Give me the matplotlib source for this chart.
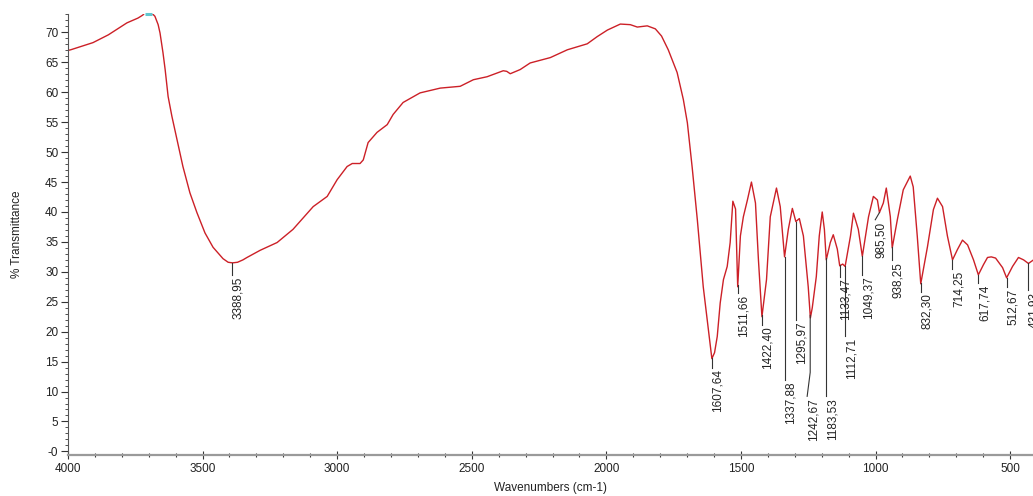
import numpy as np
import matplotlib
matplotlib.use("Agg")
import matplotlib.pyplot as plt
from matplotlib.ticker import MultipleLocator

plt.rcParams['font.family'] = ['Liberation Sans', 'DejaVu Sans']

# spectrum (wavenumber, %T)
wn = [4000, 3990, 3907, 3850, 3781, 3740, 3722, 3714, 3706, 3698, 3688, 3677,
      3665, 3658, 3647, 3639, 3628, 3614, 3595, 3573, 3547, 3521, 3491, 3461,
      3424, 3405, 3389, 3370, 3350, 3335, 3286, 3223, 3164, 3089, 3037, 3000,
      2963, 2944, 2915, 2903, 2885, 2852, 2814, 2792, 2755, 2692, 2617, 2543,
      2494, 2443, 2383, 2370, 2357, 2320, 2283, 2208, 2145, 2071, 2034, 1996,
      1948, 1911, 1885, 1848, 1818, 1795, 1770, 1737, 1714, 1699, 1688, 1681,
      1662, 1640, 1621, 1608, 1598, 1588, 1577, 1565, 1551, 1540, 1530, 1520,
      1512, 1502, 1491, 1476, 1461, 1446, 1435, 1422, 1405, 1391, 1368, 1354,
      1338, 1324, 1309, 1296, 1283, 1268, 1250, 1242, 1235, 1220, 1209, 1198,
      1190, 1183, 1168, 1157, 1142, 1133, 1122, 1113, 1093, 1082, 1064, 1049,
      1026, 1008, 993, 985.5, 971, 960, 945, 938, 919, 897, 871, 860, 845, 832,
      807, 785, 770, 751, 733, 714, 696, 677, 658, 636, 618, 599, 584, 570, 554,
      528, 513, 491, 469, 450, 432, 413]
trans = [67.0, 67.1, 68.3, 69.6, 71.6, 72.4, 72.9, 73.3, 73.5, 73.5, 73.2, 72.7,
         71.3, 69.9, 66.6, 63.8, 59.3, 56.0, 52.1, 47.6, 43.2, 39.9, 36.5, 34.1,
         32.2, 31.6, 31.5, 31.6, 32.0, 32.4, 33.6, 34.9, 37.1, 40.9, 42.6, 45.4,
         47.6, 48.1, 48.1, 48.7, 51.6, 53.3, 54.6, 56.3, 58.3, 59.9, 60.7, 61.0,
         62.1, 62.6, 63.6, 63.5, 63.1, 63.8, 64.9, 65.8, 67.1, 68.1, 69.3, 70.4,
         71.4, 71.3, 70.9, 71.1, 70.6, 69.4, 67.1, 63.3, 58.8, 54.9, 50.4, 47.4,
         38.7, 27.5, 20.4, 15.5, 16.5, 19.2, 24.8, 28.7, 30.9, 34.9, 41.8, 40.5,
         27.5, 36.0, 39.2, 42.0, 45.0, 41.5, 32.0, 22.5, 28.7, 39.2, 44.0, 40.9,
         32.5, 37.1, 40.6, 38.4, 38.9, 36.0, 27.5, 22.3, 24.0, 29.2, 36.0, 40.0,
         37.1, 32.0, 34.9, 36.2, 33.8, 31.0, 31.3, 30.9, 36.0, 39.8, 37.1, 32.6,
         39.2, 42.6, 42.0, 39.9, 41.5, 44.0, 39.2, 34.0, 38.7, 43.7, 46.0, 44.2,
         36.0, 28.0, 34.2, 40.4, 42.3, 40.9, 36.0, 32.0, 33.7, 35.3, 34.5, 32.0,
         29.5, 31.2, 32.4, 32.5, 32.3, 30.7, 29.0, 30.9, 32.4, 32.0, 31.4, 32.0]

# peak picks
peak_wn = [3388.95, 1607.64, 1511.66, 1422.40, 1337.88, 1295.97, 1242.67, 1183.53,
           1133.47, 1112.71, 1049.37, 985.50, 938.25, 832.30, 714.25, 617.74,
           512.67, 431.93]
peak_lbl = ["3388,95", "1607,64", "1511,66", "1422,40", "1337,88", "1295,97",
            "1242,67", "1183,53", "1133,47", "1112,71", "1049,37", "985,50",
            "938,25", "832,30", "714,25", "617,74", "512,67", "431,93"]
# where each label's text starts (top of the rotated text)
lbl_top = [29.5, 14.0, 26.5, 21.2, 12.0, 22.0, 9.2, 9.2, 29.2, 19.2, 29.5,
           38.7, 32.0, 26.7, 30.4, 28.2, 27.5, 27.0]

wn = np.array(wn, dtype=float)
trans = np.array(trans, dtype=float)

YTOP = 73.1
fig = plt.figure(figsize=(10.33, 4.96), dpi=100)
ax = fig.add_axes([0.0658, 0.0827, 0.9342, 0.8893])

ax.plot(wn, trans, color='#cc2027', lw=1.0, clip_on=True)
# part of the curve that goes over the top gets drawn cyan at the limit
over = trans >= YTOP
ax.plot(wn[over], np.minimum(trans[over], YTOP), color='#5fc7cf', lw=2.2,
        solid_capstyle='butt', clip_on=False)

xs = wn[::-1]
ys = trans[::-1]
for w, s, top in zip(peak_wn, peak_lbl, lbl_top):
    yc = np.interp(w, xs, ys)
    tx = w
    if s == "1242,67":
        tx = 1254
        ax.plot([w, w, tx], [yc, 13.2, top], color='#333333', lw=0.8)
    elif s == "985,50":
        tx = 1001
        ax.plot([w, tx], [yc, top], color='#333333', lw=0.8)
    else:
        ax.plot([w, w], [yc, top], color='#333333', lw=0.8)
    ax.text(tx, top - 0.3, s, rotation=90, ha='left', va='top', fontsize=8.5,
            color='#222222', clip_on=True)

ax.set_xlim(4000, 415)
ax.set_ylim(-0.6, YTOP)

ax.xaxis.set_major_locator(MultipleLocator(500))
ax.xaxis.set_minor_locator(MultipleLocator(100))
yt = np.arange(0, 75, 5)
ax.set_yticks(yt)
ax.set_yticklabels(["-0"] + [str(v) for v in yt[1:]])
ax.yaxis.set_minor_locator(MultipleLocator(1))

ax.spines['top'].set_visible(False)
ax.spines['right'].set_visible(False)
ax.spines['left'].set_color('#555555')
ax.spines['left'].set_linewidth(0.8)
ax.spines['bottom'].set_color('#9a9a9a')
ax.spines['bottom'].set_linewidth(1.6)

ax.tick_params(axis='x', which='major', direction='inout', length=6, width=0.8,
               color='#333333', labelsize=8.5, labelcolor='#222222', pad=3)
ax.tick_params(axis='x', which='minor', direction='inout', length=3, width=0.8,
               color='#333333')
ax.tick_params(axis='y', which='major', direction='out', length=5, width=0.8,
               color='#333333', labelsize=8.5, labelcolor='#222222', pad=2)
ax.tick_params(axis='y', which='minor', direction='out', length=2, width=0.6,
               color='#333333')

ax.set_xlabel("Wavenumbers (cm-1)", fontsize=8.5, color='#222222', labelpad=5)
ax.set_ylabel("% Transmittance", fontsize=8.5, color='#222222')
ax.yaxis.set_label_coords(-0.047, 0.5)

fig.savefig("out.png", dpi=100)
